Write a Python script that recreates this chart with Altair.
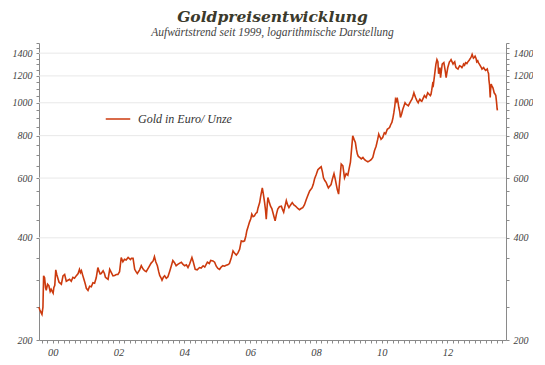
import altair as alt
import pandas as pd

# Gold price in EUR per ounce (decimal year, value)
years = [
    1999.58, 1999.60, 1999.65, 1999.67, 1999.70, 1999.72, 1999.75, 1999.78, 1999.80, 1999.84,
    1999.88, 1999.92, 1999.95, 2000.01, 2000.03, 2000.06, 2000.09, 2000.12, 2000.19, 2000.26,
    2000.31, 2000.36, 2000.41, 2000.46, 2000.51, 2000.56, 2000.61, 2000.66, 2000.71, 2000.77,
    2000.81, 2000.84, 2000.87, 2000.91, 2000.95, 2000.99, 2001.02, 2001.07, 2001.12, 2001.17,
    2001.22, 2001.27, 2001.32, 2001.37, 2001.41, 2001.44, 2001.47, 2001.53, 2001.57, 2001.60,
    2001.64, 2001.68, 2001.73, 2001.78, 2001.83, 2001.88, 2001.93, 2001.98, 2002.03, 2002.08,
    2002.13, 2002.18, 2002.23, 2002.29, 2002.36, 2002.39, 2002.44, 2002.49, 2002.53, 2002.57,
    2002.64, 2002.69, 2002.74, 2002.79, 2002.84, 2002.92, 2002.99, 2003.05, 2003.09, 2003.13,
    2003.18, 2003.22, 2003.25, 2003.29, 2003.32, 2003.36, 2003.40, 2003.45, 2003.50, 2003.55,
    2003.60, 2003.65, 2003.70, 2003.75, 2003.80, 2003.86, 2003.91, 2003.96, 2004.01, 2004.06,
    2004.11, 2004.16, 2004.23, 2004.27, 2004.33, 2004.39, 2004.46, 2004.51, 2004.57, 2004.62,
    2004.70, 2004.76, 2004.80, 2004.87, 2004.92, 2004.97, 2005.02, 2005.07, 2005.12, 2005.17,
    2005.22, 2005.27, 2005.32, 2005.37, 2005.43, 2005.48, 2005.53, 2005.58, 2005.63, 2005.68,
    2005.73, 2005.78, 2005.83, 2005.87, 2005.90, 2005.94, 2005.98, 2006.02, 2006.05, 2006.09,
    2006.13, 2006.17, 2006.21, 2006.24, 2006.29, 2006.32, 2006.37, 2006.40, 2006.44, 2006.47,
    2006.49, 2006.52, 2006.54, 2006.58, 2006.62, 2006.66, 2006.69, 2006.73, 2006.76, 2006.80,
    2006.84, 2006.89, 2006.95, 2006.98, 2007.02, 2007.06, 2007.10, 2007.14, 2007.18, 2007.23,
    2007.28, 2007.33, 2007.38, 2007.40, 2007.45, 2007.50, 2007.55, 2007.60, 2007.65, 2007.71,
    2007.76, 2007.81, 2007.88, 2007.92, 2007.96, 2008.01, 2008.06, 2008.11, 2008.16, 2008.20,
    2008.23, 2008.27, 2008.31, 2008.35, 2008.38, 2008.42, 2008.46, 2008.50, 2008.55, 2008.59,
    2008.62, 2008.65, 2008.69, 2008.73, 2008.77, 2008.82, 2008.87, 2008.92, 2008.97, 2009.01,
    2009.05, 2009.09, 2009.12, 2009.16, 2009.20, 2009.23, 2009.26, 2009.29, 2009.33, 2009.38,
    2009.43, 2009.48, 2009.53, 2009.58, 2009.63, 2009.68, 2009.73, 2009.78, 2009.83, 2009.88,
    2009.91, 2009.93, 2009.96, 2009.98, 2010.03, 2010.08, 2010.12, 2010.17, 2010.24, 2010.27,
    2010.31, 2010.34, 2010.37, 2010.40, 2010.42, 2010.45, 2010.47, 2010.50, 2010.52, 2010.55,
    2010.57, 2010.61, 2010.64, 2010.68, 2010.71, 2010.74, 2010.77, 2010.81, 2010.84, 2010.88,
    2010.92, 2010.95, 2010.98, 2011.00, 2011.03, 2011.07, 2011.11, 2011.13, 2011.16, 2011.19,
    2011.22, 2011.26, 2011.30, 2011.33, 2011.35, 2011.40, 2011.44, 2011.48, 2011.50, 2011.52,
    2011.55, 2011.57, 2011.60, 2011.63, 2011.65, 2011.68, 2011.71, 2011.73, 2011.75, 2011.77,
    2011.79, 2011.81, 2011.84, 2011.89, 2011.91, 2011.93, 2011.96, 2011.98, 2012.01, 2012.03,
    2012.06, 2012.09, 2012.11, 2012.14, 2012.17, 2012.19, 2012.22, 2012.24, 2012.26, 2012.29,
    2012.32, 2012.34, 2012.37, 2012.41, 2012.44, 2012.47, 2012.49, 2012.52, 2012.55, 2012.59,
    2012.62, 2012.66, 2012.70, 2012.73, 2012.75, 2012.77, 2012.79, 2012.82, 2012.84, 2012.87,
    2012.89, 2012.92, 2012.94, 2012.97, 2013.00, 2013.03, 2013.05, 2013.08, 2013.10, 2013.13,
    2013.16, 2013.18, 2013.21, 2013.23, 2013.25, 2013.26, 2013.28, 2013.29, 2013.30, 2013.31,
    2013.33, 2013.35, 2013.38, 2013.40, 2013.42, 2013.45, 2013.47, 2013.49, 2013.50, 2013.51,
    2013.52,
]
gold_eur = [
    250, 246, 240, 238, 250, 309, 305, 285, 280, 292,
    289, 278, 282, 275, 285, 290, 322, 312, 296, 292,
    309, 312, 298, 300, 302, 298, 306, 304, 309, 314,
    323, 316, 320, 310, 301, 292, 284, 280, 288, 287,
    295, 294, 305, 327, 318, 313, 314, 320, 314, 306,
    304, 302, 323, 316, 309, 310, 312, 312, 318, 350,
    340, 346, 344, 350, 345, 348, 348, 323, 318, 314,
    322, 331, 324, 320, 318, 328, 337, 342, 352, 340,
    331, 318, 310, 305, 300, 306, 309, 304, 307, 318,
    330, 343, 338, 331, 334, 337, 339, 334, 331, 333,
    327, 335, 350, 340, 323, 322, 327, 326, 331, 328,
    339, 336, 343, 342, 339, 330, 325, 323, 328, 331,
    330, 332, 333, 336, 350, 366, 360, 356, 361, 370,
    392, 390, 392, 405, 420, 432, 445, 455, 470, 462,
    464, 472, 475, 490, 508, 530, 561, 540, 508, 480,
    454, 500, 526, 510, 496, 488, 476, 460, 449, 470,
    486, 494, 496, 486, 476, 495, 515, 500, 491, 500,
    508, 500, 496, 494, 488, 484, 488, 491, 500, 520,
    535, 550, 561, 575, 597, 615, 635, 642, 648, 625,
    601, 590, 583, 570, 561, 568, 574, 595, 618, 595,
    574, 555, 538, 600, 660, 652, 601, 618, 612, 640,
    668, 740, 799, 780, 764, 730, 706, 695, 690, 683,
    690, 680, 674, 670, 674, 680, 690, 722, 745, 781,
    808, 798, 790, 781, 790, 816, 810, 835, 845, 860,
    875, 900, 935, 980, 1024, 1010, 1036, 1000, 970, 940,
    905, 930, 955, 980, 1000, 990, 986, 980, 993, 1010,
    1024, 1045, 1070, 1055, 1036, 1015, 1000, 1012, 1024, 1015,
    1010, 1030, 1050, 1042, 1036, 1070, 1060, 1050, 1060, 1087,
    1136, 1126, 1190, 1257, 1300, 1340, 1320, 1218, 1240, 1270,
    1185, 1230, 1300, 1313, 1280, 1245, 1185, 1220, 1270, 1290,
    1320, 1330, 1340, 1320, 1300, 1310, 1320, 1290, 1270, 1262,
    1257, 1270, 1285, 1280, 1270, 1285, 1300, 1290, 1313, 1305,
    1320, 1335, 1354, 1370, 1388, 1370, 1354, 1362, 1371, 1350,
    1320, 1330, 1313, 1300, 1285, 1270, 1257, 1265, 1270, 1255,
    1245, 1250, 1257, 1235, 1218, 1170, 1126, 1080, 1036, 1090,
    1136, 1120, 1109, 1090, 1070, 1060, 1050, 1010, 986, 960,
    950,
]
series_name = "Gold in Euro/ Unze"
grid_values = [400, 600, 800, 1000, 1200, 1400]
y_tick_values = list(range(200, 1501, 50))
x_tick_values = [round(y + m / 6, 4) for y in range(1999, 2014) for m in range(6)
                 if 1999.6 <= y + m / 6 <= 2013.75]

df = pd.DataFrame({"year": years, "value": gold_eur, "series": series_name})
grid_df = pd.DataFrame({"g": grid_values})

LINE = "#cc3a0e"
AXIS = "#8a8a8a"
LABEL = "#3f3f3f"
FONT = "Liberation Serif"

x_scale = alt.Scale(domain=[1999.58, 2013.78], nice=False, zero=False)
y_scale = alt.Scale(type="log", domain=[200, 1500], nice=False)

y_label_expr = "(datum.value % 200 == 0 && datum.value <= 1400) ? datum.value : ''"
x_label_expr = ("(abs(datum.value - round(datum.value)) < 0.01 && round(datum.value) % 2 == 0) ? "
                "((round(datum.value) % 100 < 10 ? '0' : '') + (round(datum.value) % 100)) : ''")


def y_axis(orient):
    return alt.Axis(orient=orient, values=y_tick_values, labelExpr=y_label_expr, title=None,
                    grid=False, tickSize=3, tickColor=AXIS, domainColor=AXIS, labelOverlap=False,
                    labelFont=FONT, labelFontStyle="italic", labelFontSize=10, labelColor=LABEL,
                    labelPadding=4, labelBaseline="middle")


x_axis = alt.Axis(values=x_tick_values, labelExpr=x_label_expr, title=None, grid=False,
                  tickSize=3, tickColor=AXIS, domainColor=AXIS, labelOverlap=False,
                  labelFont=FONT, labelFontStyle="italic", labelFontSize=10.5, labelColor=LABEL,
                  labelPadding=4)

grid = alt.Chart(grid_df).mark_rule(color="#e8e8e8", strokeWidth=1).encode(
    y=alt.Y("g:Q", scale=y_scale, axis=None)
)

line = alt.Chart(df).mark_line(strokeWidth=1.6).encode(
    x=alt.X("year:Q", scale=x_scale, axis=x_axis),
    y=alt.Y("value:Q", scale=y_scale, axis=y_axis("left")),
    color=alt.Color("series:N", scale=alt.Scale(range=[LINE]),
                    legend=alt.Legend(title=None, orient="none", legendX=66, legendY=63,
                                      symbolType="stroke", symbolSize=600, symbolStrokeWidth=1.5,
                                      labelFont=FONT, labelFontStyle="italic", labelFontSize=12,
                                      labelColor="#333333", padding=0, labelOffset=7)),
)

right = alt.Chart(df).mark_line(opacity=0).encode(
    x=alt.X("year:Q", scale=x_scale, axis=x_axis),
    y=alt.Y("value:Q", scale=y_scale, axis=y_axis("right")),
)

chart = alt.layer(grid, line, right).resolve_axis(y="independent", x="shared").properties(
    width=467,
    height=297,
    padding={"left": 4, "top": 2, "right": 0, "bottom": 0},
    title=alt.TitleParams(
        text="Goldpreisentwicklung",
        subtitle="Aufwärtstrend seit 1999, logarithmische Darstellung",
        font="DejaVu Serif", fontSize=15.5, fontStyle="italic", fontWeight="bold",
        color="#3b3a2c", subtitleFont=FONT, subtitleFontSize=11.5,
        subtitleFontStyle="italic", subtitleColor="#444444",
        anchor="middle", offset=0, subtitlePadding=1,
    ),
).configure_view(stroke=None)

chart.save("out.html", embed_options={"renderer": "svg", "actions": False})
